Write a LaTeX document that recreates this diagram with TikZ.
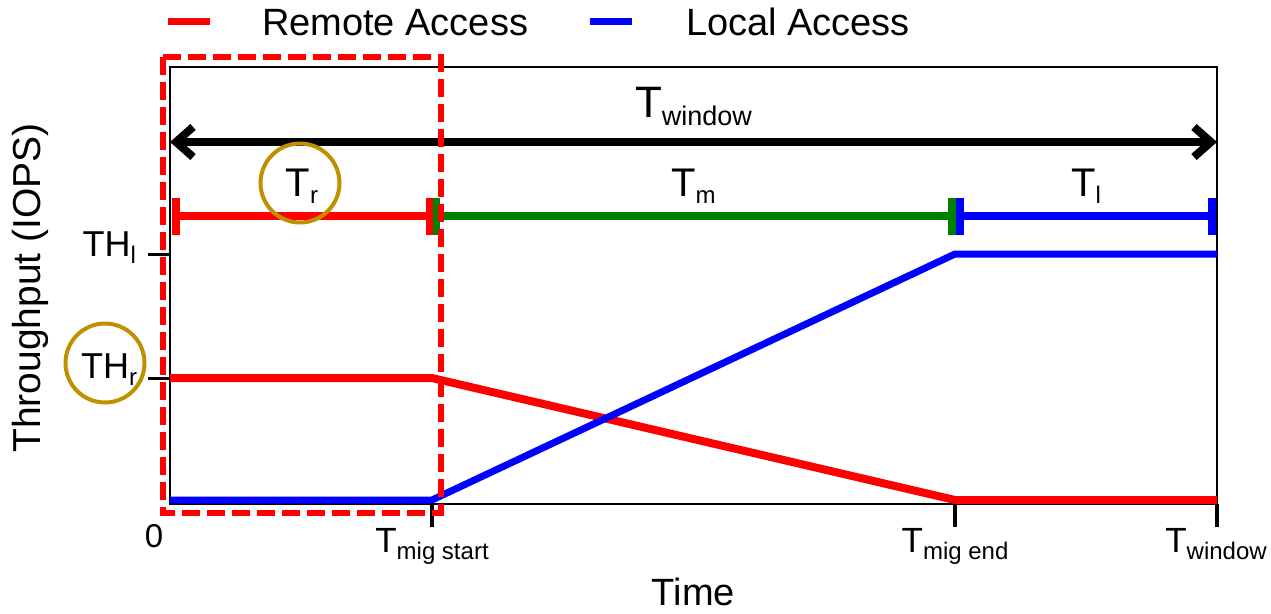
\documentclass[tikz,border=0pt]{standalone}
\usepackage{fontspec}
\setmainfont{Liberation Sans}
\usetikzlibrary{arrows.meta}
\definecolor{plotred}{RGB}{255,0,0}
\definecolor{plotblue}{RGB}{0,0,255}
\definecolor{plotgreen}{RGB}{0,128,0}
\definecolor{ringgold}{RGB}{191,144,0}
% main letter, subscript lowered by #3 pt
\newcommand{\subl}[5]{{\fontsize{#1}{#1}\selectfont #4}\raisebox{-#3pt}{\fontsize{#2}{#2}\selectfont #5}}
\newcommand{\fs}[1]{\fontsize{#1}{#1}\selectfont}
\begin{document}
\begin{tikzpicture}[x=1pt,y=-1pt,
  lbl/.style={inner sep=0pt, outer sep=0pt},
  frame/.style={draw=black, line width=1.5pt},
  curve/.style={line width=8pt},
  seg/.style={line width=8pt},
  legdash/.style={line width=7pt},
  ring/.style={circle, draw=ringgold, line width=4pt, minimum size=79pt, inner sep=0pt},
  xtick/.style={line width=4pt},
  ytick/.style={line width=3pt},
  window/.style={line width=8pt, {Straight Barb[length=17pt,width=30pt]}-{Straight Barb[length=17pt,width=30pt]}},
  hilite/.style={draw=plotred, line width=6pt, dash pattern=on 18pt off 7pt}]
\useasboundingbox (0,0) rectangle (1271,613);

% legend
\draw[legdash, plotred] (168,21) -- (210,21);
\node[lbl, anchor=base west] (legR) at (262,35) {\fs{38}Remote Access};
\draw[legdash, plotblue] (590,21) -- (632,21);
\node[lbl, anchor=base west] (legL) at (686,35) {\fs{38}Local Access};

% plot frame
\draw[frame] (170,67) rectangle (1217,504);

% axis ticks
\draw[ytick] (148,254) -- (170,254);
\draw[ytick] (148,378) -- (170,378);
\draw[xtick] (432,504) -- (432,527);
\draw[xtick] (955,504) -- (955,527);
\draw[xtick] (1217,504) -- (1217,527);

% axis labels
\node[lbl, rotate=90] (ylab) at (30,288) {\fs{39}Throughput (IOPS)};
\node[lbl, anchor=base] (xlab) at (693.5,605) {\fs{38}Time};
\node[lbl, anchor=base] (x0) at (154,547) {\fs{33}0};
\node[lbl, anchor=base] (xstart) at (432,552) {\subl{35}{24}{7}{T}{mig start}};
\node[lbl, anchor=base] (xend) at (955,552) {\subl{35}{24}{7}{T}{mig end}};
\node[lbl, anchor=base] (xwin) at (1216,552) {\subl{35}{24}{7}{T}{window}};
\node[lbl, anchor=base east] (thl) at (136,256) {\subl{36}{24}{7}{TH}{l}};
\node[lbl, anchor=base east] (thr) at (137,378) {\subl{36}{24}{7}{TH}{r}};

% window span
\draw[window] (170,142) -- (1217,142);
\node[lbl, anchor=base] (twin) at (693.5,117) {\subl{44}{27}{8}{T}{window}};

% phase segments
\draw[seg, plotred] (176,216) -- (430,216);
\fill[plotred] (172,198) rectangle (180,235);
\fill[plotred] (426,198) rectangle (433,235);
\draw[seg, plotgreen] (436,216) -- (952,216);
\fill[plotgreen] (433,198) rectangle (440,235);
\fill[plotgreen] (948,198) rectangle (956,235);
\draw[seg, plotblue] (960,216) -- (1212,216);
\fill[plotblue] (956,198) rectangle (964,235);
\fill[plotblue] (1208,198) rectangle (1216,235);
\node[lbl, anchor=base] (tr) at (302,196) {\subl{40}{24}{7}{T}{r}};
\node[lbl, anchor=base] (tm) at (693.5,196) {\subl{40}{24}{7}{T}{m}};
\node[lbl, anchor=base] (tl) at (1086,196) {\subl{40}{24}{7}{T}{l}};

% throughput curves
\draw[curve, plotred] (170,378) -- (432,378) -- (955,500) -- (1217,500);
\draw[curve, plotblue, line width=7pt] (170,500) -- (432,500) -- (955,254) -- (1217,254);

% highlights
\node[ring] (ringT) at (300,183) {};
\node[ring] (ringTH) at (105,363) {};
\draw[hilite] (163,57) rectangle (441,513);
\end{tikzpicture}
\end{document}
